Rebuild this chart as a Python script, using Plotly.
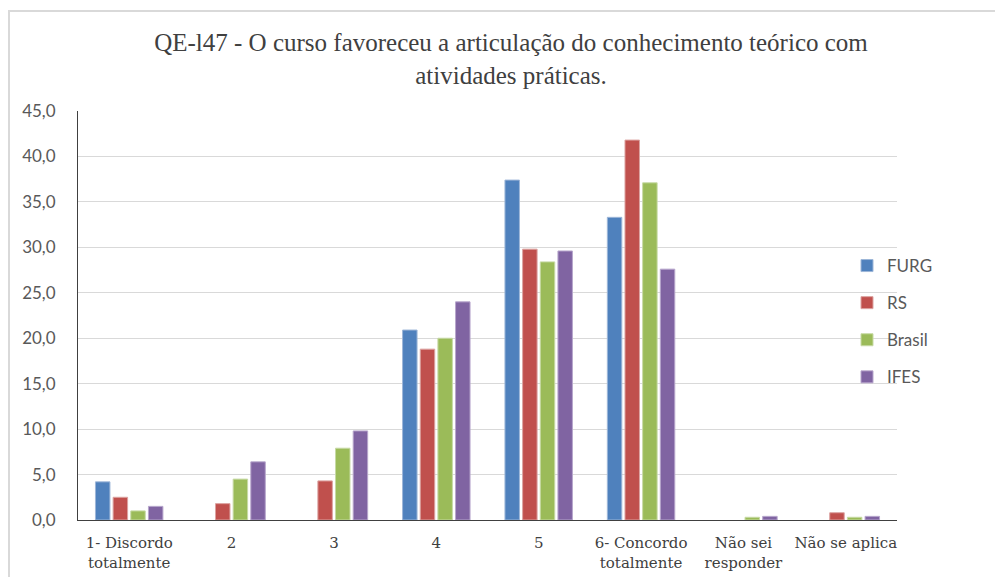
import plotly.graph_objects as go

categories = ["1- Discordo<br>totalmente", "2", "3", "4", "5", "6- Concordo<br>totalmente", "Não sei<br>responder", "Não se aplica"]
furg = [4.2, None, None, 20.9, 37.4, 33.3, None, None]
rs = [2.5, 1.8, 4.3, 18.8, 29.8, 41.8, None, 0.8]
brasil = [1.0, 4.5, 7.9, 20.0, 28.4, 37.1, 0.3, 0.3]
ifes = [1.5, 6.4, 9.8, 24.0, 29.6, 27.6, 0.4, 0.4]
series_names = ["FURG", "RS", "Brasil", "IFES"]
colors = ["#4F81BD", "#C0504D", "#9BBB59", "#8064A2"]
line_colors = ["#9db6d8", "#dca3a1", "#c7daa5", "#b7a6cc"]
y_ticks = [0, 5, 10, 15, 20, 25, 30, 35, 40, 45]

fig = go.Figure()
for i, (name, vals) in enumerate(zip(series_names, [furg, rs, brasil, ifes])):
    fig.add_trace(go.Bar(
        x=categories, y=vals, name=name, legendgroup=name,
        marker=dict(color=colors[i], line=dict(color=line_colors[i], width=1)),
    ))

OFF = 8  # page body margin
W, H = 1003 - OFF, 577 - OFF
L, T = 78 - OFF, 111 - OFF
pw, ph = 819, 409
R = W - L - pw
B = H - T - ph

def px_x(px):
    return (px - OFF - L) / pw

def px_y(py):
    return (T + ph - (py - OFF)) / ph

fig.add_shape(type="rect", xref="paper", yref="paper",
              x0=(1 - L) / pw, x1=(W + 10 - L) / pw,
              y0=(T + ph - (H + 10)) / ph, y1=(T + ph - 3) / ph,
              line=dict(color="#d9d9d9", width=2), fillcolor="rgba(0,0,0,0)", layer="below")

fig.update_layout(
    width=W, height=H,
    margin=dict(l=L, r=R, t=T, b=B, autoexpand=False),
    paper_bgcolor="white", plot_bgcolor="white",
    separators=",.",
    barmode="group", bargap=0.31, bargroupgap=0.18,
    title=dict(
        text="QE-l47 - O curso favoreceu a articulação do conhecimento teórico com<br>atividades práticas.",
        x=(511 - OFF) / W, xanchor="center", y=1 - 43 / H, yanchor="top",
        font=dict(family="Liberation Serif", size=25, color="#404040"),
    ),
    yaxis=dict(
        range=[0, 45], tickvals=y_ticks, tickformat=".1f",
        showgrid=True, gridcolor="#d9d9d9", gridwidth=1,
        showline=True, linecolor="#404040", linewidth=1,
        zeroline=False, ticks="",
        tickfont=dict(family="Lato", size=17, color="#595959"),
        ticklabelstandoff=18,
    ),
    xaxis=dict(
        showline=True, linecolor="#404040", linewidth=1,
        ticks="", showgrid=False,
        tickfont=dict(family="DejaVu Serif", size=15, color="#404040"),
        ticklabelstandoff=9,
    ),
    legend=dict(
        x=px_x(847), y=px_y(248), xanchor="left", yanchor="top",
        font=dict(family="Lato", size=17, color="#595959"),
        traceorder="grouped", tracegroupgap=12,
        itemwidth=30, bgcolor="rgba(0,0,0,0)",
    ),
    showlegend=True,
)

fig.write_html("out.html")
